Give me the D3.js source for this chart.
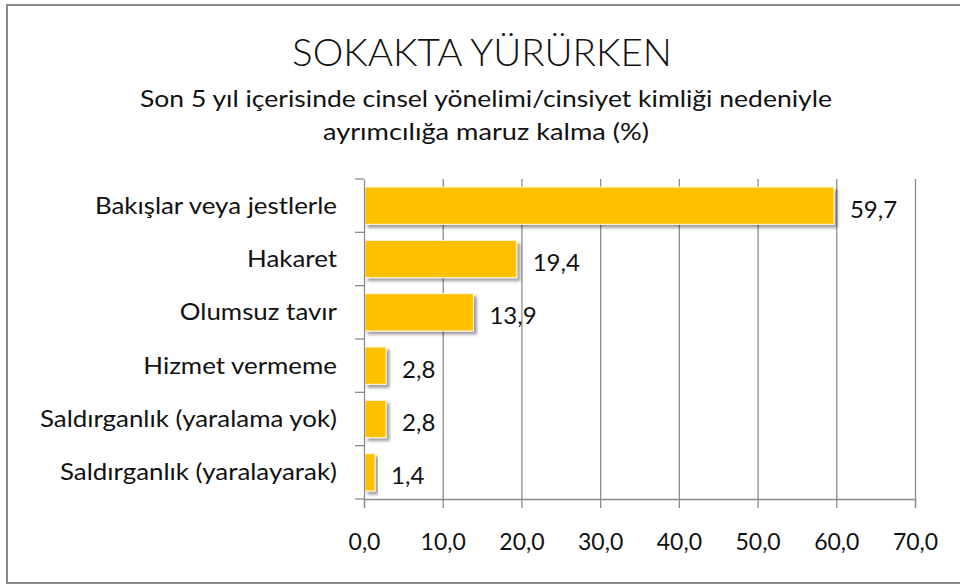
<!DOCTYPE html>
<html>
<head>
<meta charset="utf-8">
<script src="https://cdn.jsdelivr.net/npm/d3@7"></script>
<style>
  body { margin: 0; background: #fff; }
  svg { display: block; font-family: Lato, "Open Sans", sans-serif; }
</style>
</head>
<body>
<svg id="chart" width="960" height="586"></svg>
<script>
// data
var categories = [
  "Bakışlar veya jestlerle",
  "Hakaret",
  "Olumsuz tavır",
  "Hizmet vermeme",
  "Saldırganlık (yaralama yok)",
  "Saldırganlık (yaralayarak)"
];
var values = [59.7, 19.4, 13.9, 2.8, 2.8, 1.4];
var xTicks = [0, 10, 20, 30, 40, 50, 60, 70];
var title = "SOKAKTA YÜRÜRKEN";
var subtitle = [
  "Son 5 yıl içerisinde cinsel yönelimi/cinsiyet kimliği nedeniyle",
  "ayrımcılığa maruz kalma (%)"
];

var tr = d3.formatLocale({decimal: ",", thousands: ".", grouping: [3], currency: ["", "₺"]});
var fmt = tr.format(".1f");

var svg = d3.select("#chart");

// squeeze text to a width (the original font is narrower than ours)
function fitTo(sel, w) {
  sel.each(function() {
    d3.select(this).attr("textLength", w).attr("lengthAdjust", "spacingAndGlyphs");
  });
}

var defs = svg.append("defs");
var f = defs.append("filter").attr("id", "shadow")
    .attr("x", "-10%").attr("y", "-20%").attr("width", "130%").attr("height", "160%");
f.append("feDropShadow")
    .attr("dx", 3).attr("dy", 3).attr("stdDeviation", 1.8)
    .attr("flood-color", "#000").attr("flood-opacity", 0.38);

// outer frame
svg.append("rect")
    .attr("x", 7).attr("y", 5)
    .attr("width", 1000).attr("height", 578)
    .attr("fill", "none")
    .attr("stroke", "#8a8a8a")
    .attr("stroke-width", 2);

// titles
var t = svg.append("text")
    .attr("x", 482).attr("y", 66)
    .attr("text-anchor", "middle")
    .attr("font-size", 37)
    .attr("font-weight", 300)
    .attr("fill", "#111")
    .text(title);
fitTo(t, 380);

var subW = [692, 326];
subtitle.forEach(function(s, i) {
  var st = svg.append("text")
      .attr("x", 486).attr("y", 107 + i * 33)
      .attr("text-anchor", "middle")
      .attr("font-size", 24)
      .attr("fill", "#111")
      .text(s);
  fitTo(st, subW[i]);
});

var x = d3.scaleLinear().domain([0, 70]).range([364, 915]);
var y = d3.scaleBand().domain(categories).range([179, 499])
    .paddingInner(0.3).paddingOuter(0.15);

// gridlines
svg.append("g")
    .attr("transform", "translate(0,499)")
    .call(d3.axisBottom(x).tickValues(xTicks.slice(1)).tickSize(-320).tickFormat(""))
    .call(function(g) {
      g.select(".domain").remove();
      g.selectAll("line").attr("stroke", "#8c8c8c").attr("stroke-width", 1.3);
    });

// bars
svg.append("g").selectAll("rect")
    .data(values)
    .enter().append("rect")
      .attr("x", x(0) + 1)
      .attr("y", function(d, i) { return y(categories[i]); })
      .attr("width", function(d) { return x(d) - x(0) - 1; })
      .attr("height", y.bandwidth())
      .attr("fill", "#FFC000")
      .attr("stroke", "#fff7e0")
      .attr("stroke-width", 1)
      .attr("filter", "url(#shadow)");

// value labels
svg.append("g").selectAll("text")
    .data(values)
    .enter().append("text")
      .attr("x", function(d) { return x(d) + 16; })
      .attr("y", function(d, i) { return y(categories[i]) + y.bandwidth() / 2 + 12; })
      .attr("font-size", 24)
      .attr("fill", "#111")
      .text(function(d) { return fmt(d); });

// x axis
svg.append("g")
    .attr("transform", "translate(0,499)")
    .call(d3.axisBottom(x).tickValues(xTicks).tickSize(9).tickFormat(fmt))
    .call(function(g) {
      g.select(".domain").attr("stroke", "#8c8c8c").attr("stroke-width", 1.3);
      g.selectAll("line").attr("stroke", "#8c8c8c").attr("stroke-width", 1.3);
      g.selectAll("text")
        .attr("y", 51).attr("dy", null)
        .attr("font-size", 23)
        .attr("font-family", "Lato, 'Open Sans', sans-serif")
        .attr("fill", "#111");
    });

// y axis with category labels
var yAxis = svg.append("g")
    .attr("transform", "translate(364,0)")
    .call(d3.axisLeft(y).tickSize(0).tickPadding(27))
    .call(function(g) {
      g.select(".domain").attr("stroke", "#8c8c8c").attr("stroke-width", 1.3);
      g.selectAll("text")
        .attr("dy", "0.33em")
        .attr("font-size", 24)
        .attr("font-family", "Lato, 'Open Sans', sans-serif")
        .attr("fill", "#111");
    });

// ticks between categories
yAxis.selectAll(".sep")
    .data(d3.range(categories.length + 1))
    .enter().append("line")
      .attr("class", "sep")
      .attr("x1", -9).attr("x2", 0)
      .attr("y1", function(i) { return y.range()[0] + i * y.step(); })
      .attr("y2", function(i) { return y.range()[0] + i * y.step(); })
      .attr("stroke", "#8c8c8c").attr("stroke-width", 1.3);

// labels: same squeeze ratio as the last one (277px wide in the picture)
var labels = yAxis.selectAll(".tick text");
var ref = labels.nodes()[categories.length - 1].getComputedTextLength();
var k = 277 / ref;
labels.each(function() {
  var w = this.getComputedTextLength() * k;
  d3.select(this).attr("textLength", w).attr("lengthAdjust", "spacingAndGlyphs");
});
</script>
</body>
</html>
